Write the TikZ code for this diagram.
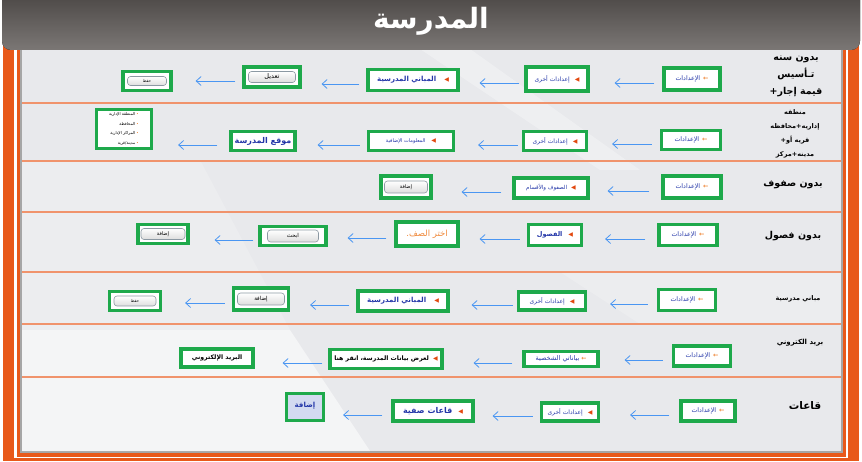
\documentclass[tikz,border=0pt]{standalone}
\usepackage{fontspec}
\setmainfont[Script=Arabic]{DejaVu Sans}
\usetikzlibrary{arrows.meta,shadows}
\TeXXeTstate=1
\definecolor{orng}{HTML}{E8591A}
\definecolor{sepc}{HTML}{F0936C}
\definecolor{grn}{HTML}{1EA94B}
\definecolor{arrb}{HTML}{4A96F2}
\definecolor{txtb}{HTML}{2336A8}
\definecolor{tri}{HTML}{E2480E}
\definecolor{hdtop}{HTML}{474341}
\definecolor{hdbot}{HTML}{7B7775}
\definecolor{panelc}{HTML}{E8E9EC}
\definecolor{btnb}{HTML}{8C99A3}
\definecolor{lblue}{HTML}{D3DAF0}
\definecolor{oran}{HTML}{F08A3C}
\newcommand\artx[1]{\beginR #1\endR}
\newcommand\fs[1]{\fontsize{#1}{#1}\selectfont}
\newcommand\plusx{\hbox{+}}
\newcommand\trig{{\fs{6}\textcolor{tri}{◀}}}
\newcommand\setx{{\fs{6.3}\textcolor{txtb}{\artx{الإعدادات}}\hspace{3pt}\textcolor{oran}{\bfseries ←}}}
\newcommand\otherx{{\fs{6}\textcolor{txtb}{\artx{إعدادات أخرى}}\hspace{5pt}\trig}}
\newcommand\linkarr[4]{\coordinate (#1-o) at ([yshift=-4pt]#1.west);
  \draw[arr,shorten <=#3pt,shorten >=#4pt] (#1-o) -- (#1-o -| #2.east);}
\tikzset{
 gbox/.style={draw=grn,line width=3.2pt,fill=white,inner sep=1pt,
   drop shadow={shadow xshift=1.6pt,shadow yshift=-1.6pt,opacity=.5,fill=black!70}},
 btn/.style={draw=btnb,line width=.6pt,rounded corners=3pt,top color=white,bottom color=black!13,inner sep=0pt},
 arr/.style={draw=arrb,line width=.8pt,-{Straight Barb[length=5pt,width=9pt]}},
 sep/.style={draw=sepc,line width=1.2pt},
 rowlbl/.style={align=center,text=black,inner sep=0pt},
}
\begin{document}
\begin{tikzpicture}[x=1pt,y=-1pt]
\useasboundingbox (0,0) rectangle (862,462);
\fill[white] (0,0) rectangle (862,462);
% frame
\fill[orng] (3,40) rectangle (859,461);
\fill[white] (14,40) rectangle (848,458);
\fill[orng] (17,40) rectangle (846,457);
\fill[panelc,draw=black!35,line width=1.5pt] (21,48) rectangle (842,452);
\begin{scope}
\clip (22,49) rectangle (841,451);
\fill[white,opacity=.55] (22,330) -- (22,451) -- (370,451) -- (290,330) -- cycle;
\fill[white,opacity=.2] (22,160) -- (22,330) -- (290,330) -- (200,160) -- cycle;
\fill[white,opacity=.3] (420,49) -- (470,49) -- (640,170) -- (600,170) -- cycle;
\fill[white,opacity=.2] (560,272) -- (841,272) -- (841,324) -- (640,324) -- cycle;
\end{scope}
% separators
\foreach \yy in {103,161,212,272,324,377} \draw[sep] (22,\yy) -- (841,\yy);
% header
\fill[top color=hdtop,bottom color=hdbot,rounded corners=9pt] (2,-12) rectangle (860,50);
\node[text=white,font=\bfseries\fs{28}] (title) at (431,21) {\artx{المدرسة}};
% row labels
\node[rowlbl,font=\bfseries\fontsize{9.5}{17}\selectfont] (r1) at (796,76) {\artx{بدون سنه}\\\artx{تـأسيس}\\\artx{قيمة إجار\plusx}};
\node[rowlbl,font=\bfseries\fontsize{6.5}{14}\selectfont] (r2) at (795,134) {\artx{منطقه}\\\artx{إداريه\plusx محافظه}\\\artx{قريه أو\plusx}\\\artx{مدينه\plusx مركز}};
\node[rowlbl,font=\bfseries\fs{9.5}] (r3) at (793,185) {\artx{بدون صفوف}};
\node[rowlbl,font=\bfseries\fs{9.5}] (r4) at (793,236) {\artx{بدون فصول}};
\node[rowlbl,font=\bfseries\fs{6.5}] (r5) at (798,299) {\artx{مباني مدرسية}};
\node[rowlbl,font=\bfseries\fs{7}] (r6) at (800,343) {\artx{بريد الكتروني}};
\node[rowlbl,font=\bfseries\fs{10.5}] (r7) at (805,406) {\artx{قاعات}};
% row 1
\node[gbox,minimum width=56pt,minimum height=22pt] (s1) at (692,79) {\setx};
\node[gbox,minimum width=62pt,minimum height=24pt] (o1) at (557,79) {\otherx};
\node[gbox,minimum width=90pt,minimum height=21pt] (m1) at (413,80) {{\fs{7}\bfseries\textcolor{txtb}{\artx{المباني المدرسية}}}\hspace{8pt}\trig};
\node[gbox,minimum width=56pt,minimum height=20pt] (t1) at (272,77) {};
\node[btn,minimum width=47pt,minimum height=11pt] (t1b) at (t1) {\fs{6.5}\artx{تعديل}};
\node[gbox,minimum width=48pt,minimum height=19pt] (h1) at (147,81) {};
\node[btn,minimum width=39pt,minimum height=9pt] (h1b) at (h1) {\fs{4}\artx{حفظ}};
\linkarr{s1}{o1}{8}{25}
\linkarr{o1}{m1}{5}{20}
\linkarr{m1}{t1}{7}{20}
\linkarr{t1}{h1}{7}{23}
% row 2
\node[gbox,minimum width=59pt,minimum height=19pt] (s2) at (691,140) {\setx};
\node[gbox,minimum width=63pt,minimum height=19pt] (o2) at (555,141) {\otherx};
\node[gbox,minimum width=85pt,minimum height=19pt] (i2) at (411,141) {{\fs{5}\textcolor{txtb}{\artx{المعلومات الإضافية}}}\hspace{6pt}\trig};
\node[gbox,minimum width=64pt,minimum height=19pt] (l2) at (263,141) {\fs{8}\bfseries\textcolor{txtb}{\artx{موقع المدرسة}}};
\node[gbox,minimum width=55pt,minimum height=39pt,align=right,font=\fontsize{4}{9.5}\selectfont] (li2) at (124,129)
 {\artx{المنطقة الإدارية}~\textcolor{oran}{•}\\\artx{المحافظة}~\textcolor{oran}{•}\\\artx{المراكز الإدارية}~\textcolor{oran}{•}\\\artx{مدينة\hbox{/}قرية}~\textcolor{oran}{•}};
\linkarr{s2}{o2}{8}{24}
\linkarr{o2}{i2}{4}{23}
\linkarr{i2}{l2}{7}{21}
\linkarr{l2}{li2}{12}{25}
% row 3
\node[gbox,minimum width=58pt,minimum height=22pt] (s3) at (692,187) {\setx};
\node[gbox,minimum width=74pt,minimum height=20pt] (c3) at (551,188) {{\fs{5.5}\textcolor{txtb}{\artx{الصفوف والأقسام}}}\hspace{4pt}\trig};
\node[gbox,minimum width=50pt,minimum height=22pt] (a3) at (406,187) {};
\node[btn,minimum width=43pt,minimum height=12pt] (a3b) at (a3) {\fs{5}\artx{إضافة}};
\linkarr{s3}{c3}{12}{18}
\linkarr{c3}{a3}{11}{29}
% row 4
\node[gbox,minimum width=58pt,minimum height=21pt] (s4) at (688,235) {\setx};
\node[gbox,minimum width=53pt,minimum height=21pt] (f4) at (555,235) {{\fs{6.5}\bfseries\textcolor{txtb}{\artx{الفصول}}}\hspace{6pt}\trig};
\node[gbox,minimum width=62pt,minimum height=24pt] (x4) at (427,234) {\fs{8.5}\textcolor{oran}{\artx{اختر الصف.}}};
\node[gbox,minimum width=66pt,minimum height=19pt] (b4) at (293,236) {};
\node[btn,minimum width=51pt,minimum height=12pt] (b4b) at (b4) {\fs{5.5}\artx{ابحث}};
\node[gbox,minimum width=50pt,minimum height=19pt] (a4) at (163,234) {};
\node[btn,minimum width=44pt,minimum height=11pt] (a4b) at (a4) {\fs{5}\artx{إضافة}};
\linkarr{s4}{f4}{12}{22}
\linkarr{f4}{x4}{7}{20}
\linkarr{x4}{b4}{8}{20}
\linkarr{b4}{a4}{5}{25}
% row 5
\node[gbox,minimum width=57pt,minimum height=21pt] (s5) at (687,300) {\setx};
\node[gbox,minimum width=67pt,minimum height=18pt] (o5) at (552,301) {\otherx};
\node[gbox,minimum width=90pt,minimum height=20pt] (m5) at (403,301) {{\fs{7}\bfseries\textcolor{txtb}{\artx{المباني المدرسية}}}\hspace{8pt}\trig};
\node[gbox,minimum width=55pt,minimum height=22pt] (a5) at (261,299) {};
\node[btn,minimum width=47pt,minimum height=12pt] (a5b) at (a5) {\fs{5.5}\artx{إضافة}};
\node[gbox,minimum width=51pt,minimum height=19pt] (h5) at (135,301) {};
\node[btn,minimum width=42pt,minimum height=10pt] (h5b) at (h5) {\fs{4}\artx{حفظ}};
\linkarr{s5}{o5}{9}{23}
\linkarr{o5}{m5}{4}{22}
\linkarr{m5}{a5}{7}{20}
\linkarr{a5}{h5}{7}{23}
% row 6
\node[gbox,minimum width=57pt,minimum height=20pt] (s6) at (702,356) {\setx};
\node[gbox,minimum width=74pt,minimum height=15pt] (p6) at (561,359) {{\fs{6.5}\textcolor{txtb}{\artx{بياناتي الشخصية}}}\hspace{2pt}{\fs{6}\bfseries\textcolor{oran}{←}}};
\node[gbox,minimum width=112pt,minimum height=19pt] (v6) at (386,359) {{\fs{6.2}\bfseries\artx{لعرض بيانات المدرسة، انقر هنا}}\hspace{4pt}\trig};
\node[gbox,minimum width=72pt,minimum height=18pt] (e6) at (217,358) {\fs{6.2}\bfseries\artx{البريد الإلكتروني}};
\linkarr{s6}{p6}{9}{25}
\linkarr{p6}{v6}{10}{30}
\linkarr{v6}{e6}{6}{28}
% row 7
\node[gbox,minimum width=54pt,minimum height=20pt] (s7) at (708,411) {\setx};
\node[gbox,minimum width=57pt,minimum height=18pt] (o7) at (570,412) {\otherx};
\node[gbox,minimum width=80pt,minimum height=20pt] (q7) at (433,411) {{\fs{8}\bfseries\textcolor{txtb}{\artx{قاعات صفية}}}\hspace{6pt}\trig};
\node[gbox,fill=lblue,minimum width=37pt,minimum height=27pt] (a7) at (305,407) {\raisebox{5pt}{\fs{7}\bfseries\textcolor{txtb}{\artx{إضافة}}}};
\linkarr{s7}{o7}{10}{30}
\linkarr{o7}{q7}{7}{18}
\linkarr{q7}{a7}{9}{18}
\end{tikzpicture}
\end{document}
